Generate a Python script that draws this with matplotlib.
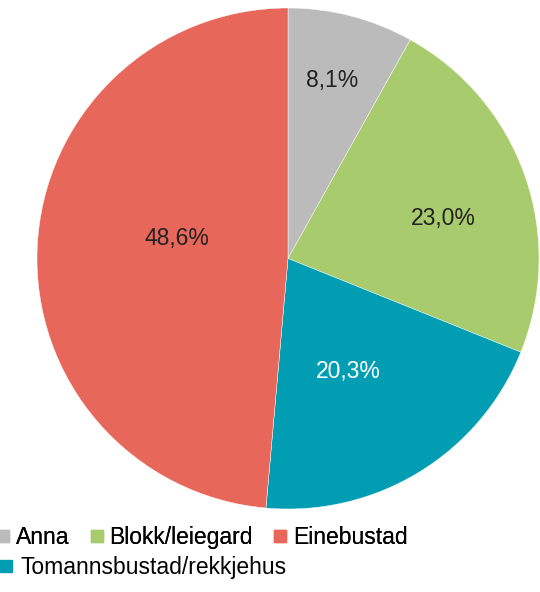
import numpy as np
import matplotlib
matplotlib.use("Agg")
import matplotlib.pyplot as plt
from matplotlib.lines import Line2D

plt.rcParams['font.family'] = ['Liberation Sans', 'DejaVu Sans']

categories = ["Anna", "Blokk/leiegard", "Tomannsbustad/rekkjehus", "Einebustad"]
values = [8.1, 23.0, 20.3, 48.6]
labels = ["8,1%", "23,0%", "20,3%", "48,6%"]
colors = ["#BBBBBB", "#A8CB6E", "#019EB3", "#E7685A"]
label_colors = ["#222222", "#222222", "#FFFFFF", "#222222"]
# label placement: radius fraction and angle adjustment (deg)
label_r = [0.73, 0.64, 0.51, 0.45]
label_dang = [0.8, -4.9, -3.6, -7.9]

W, H = 540, 592
fig = plt.figure(figsize=(W / 100, H / 100), dpi=100)
ax = fig.add_axes([37 / W, (H - 509) / H, 502 / W, 501 / H])
wedges, _ = ax.pie(values, colors=colors, startangle=90, counterclock=False,
                   radius=1.0, wedgeprops=dict(linewidth=0.3, edgecolor="white"))
ax.set_xlim(-1, 1)
ax.set_ylim(-1, 1)
ax.set_aspect('auto')
ax.axis('off')

for w, lab, lc, rf, da in zip(wedges, labels, label_colors, label_r, label_dang):
    ang = np.deg2rad((w.theta1 + w.theta2) / 2 + da)
    ax.text(rf * np.cos(ang), rf * np.sin(ang), lab, ha='center', va='center',
            fontsize=16.5, color=lc)

def handle(c):
    return Line2D([], [], linestyle='none', marker='s', markersize=8,
                  markerfacecolor=c, markeredgecolor=c)

order1 = [0, 1, 3]
leg1 = fig.legend([handle(colors[i]) for i in order1], [categories[i] for i in order1],
                  loc='upper left', bbox_to_anchor=(-0.005, 1 - 526 / H), ncol=3,
                  frameon=False, fontsize=16.5, borderpad=0, borderaxespad=0,
                  handlelength=0.5, handletextpad=0.3, columnspacing=0.95)
fig.add_artist(leg1)
leg2 = fig.legend([handle(colors[2])], [categories[2]],
                  loc='upper left', bbox_to_anchor=(0.0, 1 - 556 / H), ncol=1,
                  frameon=False, fontsize=16.5, borderpad=0, borderaxespad=0,
                  handlelength=0.5, handletextpad=0.4)

fig.savefig("out.png", dpi=100)
